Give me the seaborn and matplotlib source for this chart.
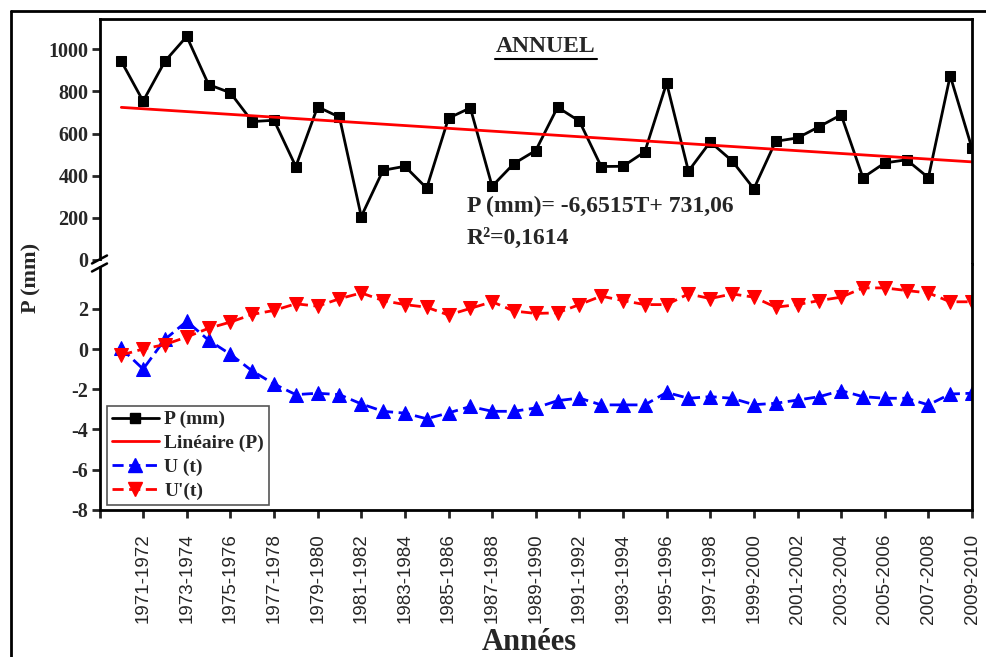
import numpy as np
import pandas as pd
import matplotlib
matplotlib.use("Agg")
import matplotlib.pyplot as plt
from matplotlib.lines import Line2D
import seaborn as sns

# ---------------- data ----------------
years = [f"{y}-{y+1}" for y in range(1970, 2010)]  # 40 hydrological years

precip = [944, 754, 944, 1062, 833, 794, 657, 663, 443, 727,
          678, 205, 425, 444, 340, 673, 722, 349, 457, 519,
          725, 659, 443, 444, 513, 840, 421, 560, 470, 337,
          563, 579, 633, 689, 390, 460, 475, 390, 875, 529]

u_t = [0.03, -1.0, 0.48, 1.38, 0.44, -0.26, -1.09, -1.74, -2.27, -2.2,
       -2.27, -2.73, -3.1, -3.19, -3.47, -3.18, -2.86, -3.1, -3.1, -2.93,
       -2.57, -2.44, -2.78, -2.78, -2.78, -2.16, -2.45, -2.37, -2.45, -2.77,
       -2.7, -2.54, -2.37, -2.07, -2.37, -2.45, -2.45, -2.78, -2.24, -2.2]

u_prime = [-0.3, 0.0, 0.22, 0.6, 1.03, 1.34, 1.72, 1.92, 2.25, 2.13,
           2.5, 2.79, 2.41, 2.21, 2.08, 1.69, 2.02, 2.35, 1.89, 1.77,
           1.8, 2.21, 2.63, 2.41, 2.21, 2.21, 2.74, 2.51, 2.74, 2.58,
           2.08, 2.21, 2.41, 2.58, 3.04, 3.04, 2.91, 2.79, 2.35, 2.35]

trend_slope = -6.6515
trend_intercept = 731.06

tick_labels = years[1::2]  # 1971-1972 ... 2009-2010

# --------------- figure ---------------
sns.set_theme(style="white")
plt.rcParams['font.family'] = ['Liberation Serif', 'DejaVu Serif']

W_PX, H_PX = 986, 657
fig = plt.figure(figsize=(W_PX / 100, H_PX / 100), dpi=100)

def fx(px):
    return px / W_PX

def fy(py):
    return 1 - py / H_PX

L, R = 99.5, 972
TOP, MID, BOT = 19, 264, 510
ax_top = fig.add_axes([fx(L), fy(MID), fx(R) - fx(L), fy(TOP) - fy(MID)])
ax_bot = fig.add_axes([fx(L), fy(BOT), fx(R) - fx(L), fy(MID) - fy(BOT)])

idx = np.arange(len(years))
df = pd.DataFrame({"idx": idx, "P": precip, "U": u_t, "Up": u_prime,
                   "trend": trend_slope * (idx + 1) + trend_intercept})

sns.lineplot(data=df, x="idx", y="P", ax=ax_top, color="black", linewidth=2,
             marker="s", markersize=7.5, markeredgecolor="black", legend=False)
sns.lineplot(data=df, x="idx", y="trend", ax=ax_top, color="red", linewidth=2,
             legend=False)
sns.lineplot(data=df, x="idx", y="U", ax=ax_bot, color="blue", linewidth=2,
             linestyle=(0, (4, 2)), marker="^", markersize=9.5,
             markeredgecolor="blue", legend=False)
sns.lineplot(data=df, x="idx", y="Up", ax=ax_bot, color="red", linewidth=2,
             linestyle=(0, (4, 2)), marker="v", markersize=9.5,
             markeredgecolor="red", legend=False)

for ax in (ax_top, ax_bot):
    ax.set_xlim(-1, 39)
    ax.set_xlabel("")
    ax.set_ylabel("")
    for s in ax.spines.values():
        s.set_linewidth(2)
        s.set_color("black")
    ax.tick_params(axis="y", direction="out", length=6, width=2,
                   labelsize=14, left=True, pad=2)

ax_top.spines["bottom"].set_visible(False)
ax_bot.spines["top"].set_visible(False)

ax_top.set_ylim(-21, 1145)
ax_top.set_yticks([0, 200, 400, 600, 800, 1000])
ax_top.set_yticklabels(["0", "200", "400", "600", "800", "1000"],
                       fontweight="bold", fontsize=14.5)
ax_top.set_xticks([])

ax_bot.set_ylim(-8.01, 4.23)
ax_bot.set_yticks([-8, -6, -4, -2, 0, 2])
ax_bot.set_yticklabels(["-8", "-6", "-4", "-2", "0", "2"],
                       fontweight="bold", fontsize=14.5)
xt = list(range(-1, 40, 2))
ax_bot.set_xticks(xt)
ax_bot.set_xticklabels([""] + tick_labels, rotation=90,
                       family="Liberation Sans", fontsize=13.5)
ax_bot.tick_params(axis="x", direction="out", length=6, width=2,
                   bottom=True, pad=11)

# axis titles
fig.text(fx(529), fy(650), "Années", ha="center", va="baseline",
         fontsize=22, fontweight="bold")
fig.text(fx(31), fy(278), "P (mm)", ha="center", va="center",
         rotation=90, fontsize=16, fontweight="bold")

# title with underline
fig.text(fx(546), fy(47), "ANNUEL", ha="center", va="center",
         fontsize=17, fontweight="bold")
fig.add_artist(Line2D([fx(495), fx(597)], [fy(59), fy(59)],
                      color="black", linewidth=1.5))

# regression annotation
fig.text(fx(467), fy(206), "P (mm)= -6,6515T+ 731,06", ha="left",
         va="center", fontsize=17, fontweight="bold")
fig.text(fx(467), fy(238), "R²=0,1614", ha="left", va="center",
         fontsize=17, fontweight="bold")

# axis break marks
fig.add_artist(plt.Rectangle((fx(96), fy(266)), fx(7), fy(261) - fy(266),
                             facecolor="white", edgecolor="none", zorder=5))
for yc in (259.5, 267.5):
    fig.add_artist(Line2D([fx(92), fx(107)], [fy(yc + 4), fy(yc - 4)],
                          color="black", linewidth=1.8, zorder=6))

# outer frame (left and top)
fig.add_artist(Line2D([fx(11), fx(11)], [fy(11), 0], color="black", linewidth=2))
fig.add_artist(Line2D([fx(11), 1], [fy(11), fy(11)], color="black", linewidth=2))

# legend
handles = [
    Line2D([], [], color="black", lw=2, marker="s", markersize=7.5),
    Line2D([], [], color="red", lw=2),
    Line2D([], [], color="blue", lw=2, linestyle=(0, (4, 2)), marker="^", markersize=9.5),
    Line2D([], [], color="red", lw=2, linestyle=(0, (4, 2)), marker="v", markersize=9.5),
]
labels = ["P (mm)", "Linéaire (P)", "U (t)", "U'(t)"]
leg = fig.legend(handles, labels, loc="lower left",
                 bbox_to_anchor=(fx(107), fy(505)), borderaxespad=0,
                 prop={"family": "Liberation Serif", "weight": "bold", "size": 14},
                 handlelength=2.4, handletextpad=0.3, labelspacing=0.32,
                 borderpad=0.25, fancybox=False, framealpha=1,
                 edgecolor="#555555")
leg.get_frame().set_linewidth(1.2)

fig.savefig("out.png", dpi=100)
